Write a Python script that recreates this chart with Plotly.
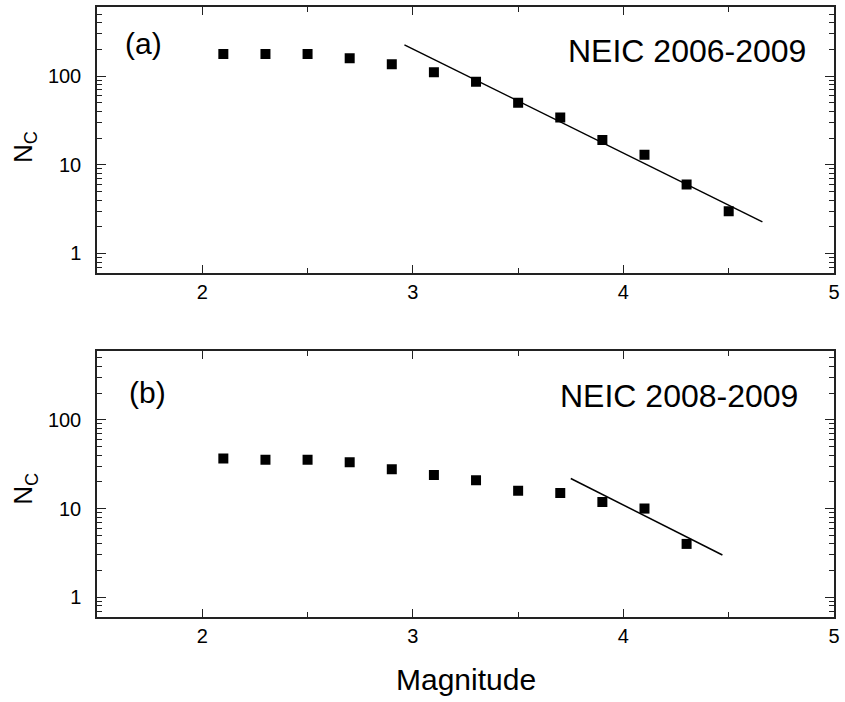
import numpy as np
import plotly.graph_objects as go
from plotly.subplots import make_subplots

# ---- data ----
mag_a = [2.1, 2.3, 2.5, 2.7, 2.9, 3.1, 3.3, 3.5, 3.7, 3.9, 4.1, 4.3, 4.5]
nc_a = [177, 177, 177, 159, 136, 110, 86, 50, 34, 19, 13, 6, 3]
mag_b = [2.1, 2.3, 2.5, 2.7, 2.9, 3.1, 3.3, 3.5, 3.7, 3.9, 4.1, 4.3]
nc_b = [36.6, 35.6, 35.5, 33.3, 27.7, 24, 20.9, 15.9, 15, 11.9, 10, 4.0]

# Gutenberg-Richter fits: log10 N = a - b M
fit_a = dict(a=5.827, b=1.174, mrange=[2.96, 4.66])
fit_b = dict(a=5.828, b=1.197, mrange=[3.75, 4.47])

labels = ["(a)", "(b)"]
titles = ["NEIC 2006-2009", "NEIC 2008-2009"]
x_ticks = [2, 3, 4, 5]
x_minor = [2.5, 3.5, 4.5]
y_ticks = [1, 10, 100]
y_minor = [0.6, 0.7, 0.8, 0.9, 2, 3, 4, 5, 6, 7, 8, 9,
           20, 30, 40, 50, 60, 70, 80, 90, 200, 300, 400, 500]

FONT = "Liberation Sans, Arial, sans-serif"

fig = make_subplots(rows=2, cols=1, vertical_spacing=0.1274)

for i, (m, n, fit) in enumerate([(mag_a, nc_a, fit_a), (mag_b, nc_b, fit_b)], start=1):
    fig.add_trace(go.Scatter(x=m, y=n, mode="markers",
                             marker=dict(symbol="square", size=10, color="black"),
                             showlegend=False), row=i, col=1)
    fm = np.array(fit["mrange"])
    fig.add_trace(go.Scatter(x=fm, y=10 ** (fit["a"] - fit["b"] * fm), mode="lines",
                             line=dict(color="black", width=1.5),
                             showlegend=False), row=i, col=1)

axis_common = dict(showgrid=False, zeroline=False, showline=True, mirror="ticks",
                   ticks="inside", tickcolor="#222", tickwidth=1,
                   linecolor="#222", linewidth=1.5,
                   tickfont=dict(family=FONT, size=20, color="black"))

for i in (1, 2):
    fig.update_xaxes(range=[1.5, 5], tickvals=x_ticks, ticklen=8,
                     minor=dict(tickvals=x_minor, ticks="inside", ticklen=5,
                                tickcolor="#222", showgrid=False),
                     ticklabelstandoff=0,
                     **axis_common, row=i, col=1)
    fig.update_yaxes(type="log", range=[np.log10(0.6), np.log10(600)],
                     tickvals=y_ticks, ticktext=["1", "10", "100"], ticklen=9,
                     minor=dict(tickvals=y_minor, ticks="inside", ticklen=5,
                                tickcolor="#222", showgrid=False),
                     ticklabelstandoff=10,
                     **axis_common, row=i, col=1)

fig.update_yaxes(domain=[0.5637, 1.0], row=1, col=1)
fig.update_yaxes(domain=[0.0, 0.4363], row=2, col=1)

ann = []
ann.append(dict(text=labels[0], x=0.0634, y=0.94, xref="paper", yref="paper",
                xanchor="center", yanchor="middle", showarrow=False,
                font=dict(family=FONT, size=30, color="black")))
ann.append(dict(text=titles[0], x=0.965, y=0.928, xref="paper", yref="paper",
                xanchor="right", yanchor="middle", showarrow=False,
                font=dict(family=FONT, size=32, color="black")))
ann.append(dict(text=labels[1], x=0.0688, y=0.3676, xref="paper", yref="paper",
                xanchor="center", yanchor="middle", showarrow=False,
                font=dict(family=FONT, size=30, color="black")))
ann.append(dict(text=titles[1], x=0.954, y=0.3627, xref="paper", yref="paper",
                xanchor="right", yanchor="middle", showarrow=False,
                font=dict(family=FONT, size=32, color="black")))
for yc in (0.771, 0.211):
    ann.append(dict(text="N<sub>C</sub>", x=-0.0985, y=yc, xref="paper", yref="paper",
                    xanchor="center", yanchor="middle", showarrow=False, textangle=-90,
                    font=dict(family=FONT, size=26, color="black")))
ann.append(dict(text="Magnitude", x=0.5, y=-0.103, xref="paper", yref="paper",
                xanchor="center", yanchor="middle", showarrow=False,
                font=dict(family=FONT, size=30, color="black")))

fig.update_layout(width=845, height=702,
                  margin=dict(l=97, r=7, t=5, b=85),
                  paper_bgcolor="white", plot_bgcolor="white",
                  annotations=ann, showlegend=False)

fig.write_html("out.html")
